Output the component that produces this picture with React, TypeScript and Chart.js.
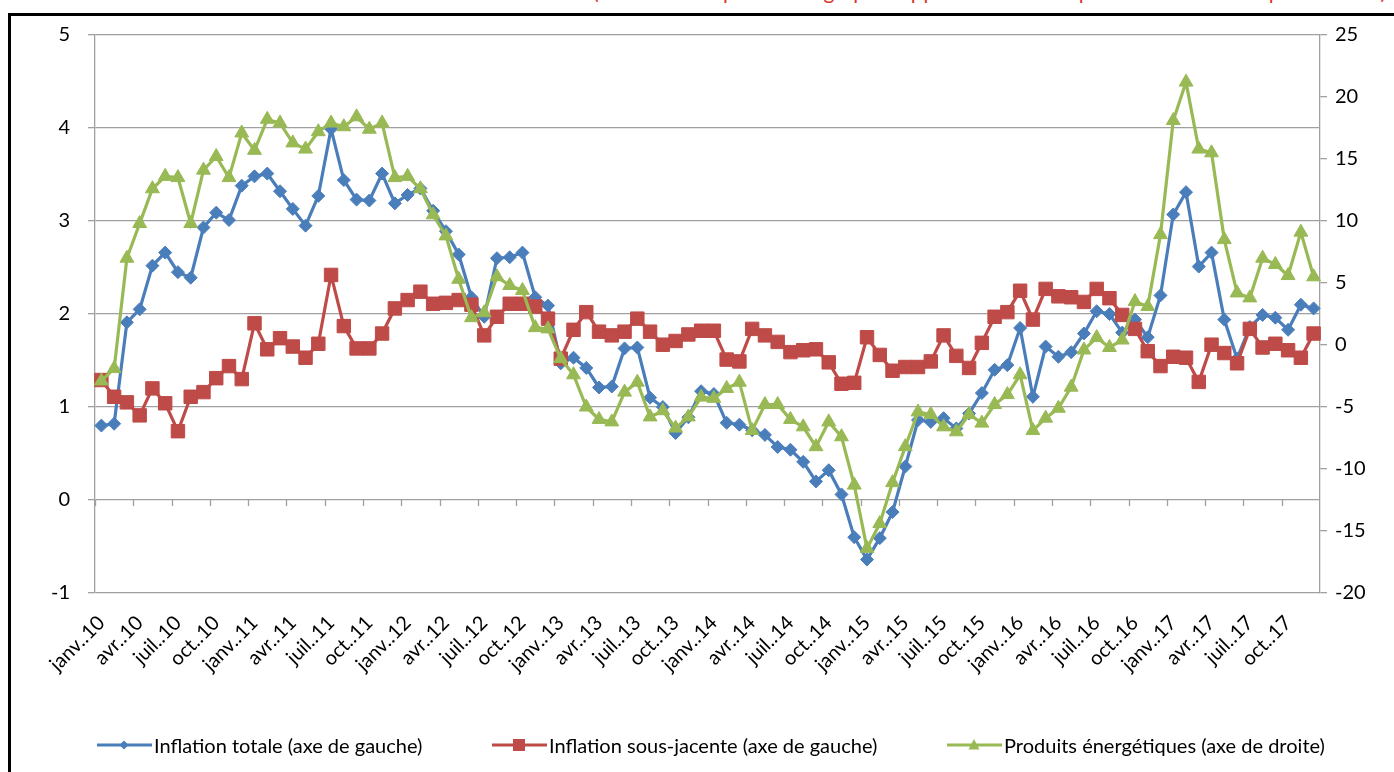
import React, { useEffect, useRef } from 'react';
import { Chart, registerables } from 'chart.js';

Chart.register(...registerables);

// ---------- data ----------
const MONTHS = ['janv.', 'févr.', 'mars', 'avr.', 'mai', 'juin', 'juil.', 'août', 'sept.', 'oct.', 'nov.', 'déc.'];
const YEARS = ['10', '11', '12', '13', '14', '15', '16', '17'];
const CATEGORIES = YEARS.flatMap((y) => MONTHS.map((m) => `${m}.${y}`));

const INFLATION_TOTALE = [
  0.80, 0.82, 1.91, 2.05, 2.52, 2.66, 2.45, 2.39, 2.93, 3.09, 3.01, 3.38,
  3.48, 3.51, 3.32, 3.13, 2.95, 3.27, 3.99, 3.44, 3.23, 3.22, 3.51, 3.19,
  3.28, 3.35, 3.11, 2.89, 2.64, 2.18, 1.97, 2.60, 2.61, 2.66, 2.18, 2.09,
  1.47, 1.53, 1.42, 1.21, 1.22, 1.63, 1.64, 1.10, 1.00, 0.72, 0.89, 1.17,
  1.14, 0.83, 0.81, 0.75, 0.70, 0.57, 0.54, 0.41, 0.20, 0.32, 0.06, -0.40,
  -0.64, -0.41, -0.13, 0.36, 0.86, 0.84, 0.88, 0.77, 0.93, 1.15, 1.40, 1.45,
  1.85, 1.11, 1.65, 1.54, 1.59, 1.79, 2.03, 2.00, 1.80, 1.94, 1.75, 2.20,
  3.07, 3.31, 2.51, 2.66, 1.94, 1.52, 1.86, 1.99, 1.96, 1.83, 2.10, 2.06,
];

const INFLATION_SOUS_JACENTE = [
  1.29, 1.11, 1.05, 0.91, 1.20, 1.04, 0.74, 1.11, 1.16, 1.31, 1.44, 1.30,
  1.90, 1.62, 1.74, 1.65, 1.53, 1.68, 2.42, 1.87, 1.63, 1.63, 1.79, 2.06,
  2.15, 2.24, 2.11, 2.12, 2.15, 2.10, 1.77, 1.97, 2.11, 2.11, 2.08, 1.95,
  1.52, 1.83, 2.02, 1.81, 1.77, 1.81, 1.95, 1.81, 1.67, 1.71, 1.78, 1.82,
  1.82, 1.51, 1.49, 1.84, 1.77, 1.70, 1.59, 1.61, 1.62, 1.48, 1.25, 1.26,
  1.75, 1.56, 1.39, 1.43, 1.43, 1.49, 1.77, 1.55, 1.42, 1.69, 1.97, 2.02,
  2.25, 1.94, 2.27, 2.19, 2.18, 2.13, 2.27, 2.17, 1.99, 1.84, 1.60, 1.44,
  1.54, 1.53, 1.27, 1.67, 1.58, 1.47, 1.84, 1.64, 1.68, 1.61, 1.53, 1.79,
];

const PRODUITS_ENERGETIQUES = [
  -2.9, -1.9, 7.0, 9.8, 12.6, 13.6, 13.5, 9.8, 14.1, 15.2, 13.5, 17.1,
  15.7, 18.2, 17.9, 16.3, 15.8, 17.2, 17.9, 17.6, 18.4, 17.4, 17.9, 13.5,
  13.6, 12.6, 10.5, 8.8, 5.3, 2.2, 2.6, 5.5, 4.8, 4.4, 1.4, 1.3,
  -1.1, -2.4, -5.0, -6.0, -6.2, -3.8, -3.0, -5.8, -5.3, -6.7, -5.8, -4.2,
  -4.3, -3.5, -3.0, -6.9, -4.8, -4.8, -6.0, -6.6, -8.2, -6.2, -7.4, -11.3,
  -16.4, -14.4, -11.1, -8.2, -5.4, -5.6, -6.6, -7.0, -5.6, -6.3, -4.8, -4.0,
  -2.4, -6.9, -5.9, -5.1, -3.4, -0.4, 0.6, -0.2, 0.4, 3.5, 3.1, 8.9,
  18.1, 21.2, 15.8, 15.5, 8.5, 4.2, 3.8, 7.0, 6.5, 5.6, 9.1, 5.5,
];

const SERIES_LABELS = [
  'Inflation totale (axe de gauche)',
  'Inflation sous-jacente (axe de gauche)',
  'Produits énergétiques (axe de droite)',
];
const TITLE = "(variation en pourcentage par rapport à la même période de l'année précédente)";

// ---------- styles ----------
const BLUE = '#4A7EBB';
const RED = '#BE4B48';
const GREEN = '#98B954';
const GRID = '#A0A0A0';
const FONT = 'Lato, "Open Sans", sans-serif';

const zeroAxisTicks = {
  id: 'zeroAxisTicks',
  beforeDatasetsDraw(chart: any) {
    const { ctx } = chart;
    const x = chart.scales.x;
    const y = chart.scales.y;
    const y0 = y.getPixelForValue(0);
    const half = (x.getPixelForValue(1) - x.getPixelForValue(0)) / 2;
    ctx.save();
    ctx.strokeStyle = GRID;
    ctx.lineWidth = 1.3;
    ctx.beginPath();
    for (let i = 0; i < CATEGORIES.length; i += 3) {
      const px = Math.round(x.getPixelForValue(i) - half) + 0.5;
      ctx.moveTo(px, y0);
      ctx.lineTo(px, y0 + 6);
    }
    ctx.stroke();
    ctx.restore();
  },
};

function LegendMarker({ color, shape }: { color: string; shape: string }) {
  let marker: any = null;
  if (shape === 'diamond') marker = <polygon points="27,3.5 31.5,8 27,12.5 22.5,8" fill={color} />;
  if (shape === 'square') marker = <rect x={21} y={2} width={12} height={12} fill={color} />;
  if (shape === 'triangle') marker = <polygon points="27,2 32.5,12.5 21.5,12.5" fill={color} />;
  return (
    <svg width={55} height={16} style={{ display: 'block' }}>
      <line x1={0} y1={8} x2={55} y2={8} stroke={color} strokeWidth={3} />
      {marker}
    </svg>
  );
}

export default function App() {
  const canvasRef = useRef<HTMLCanvasElement | null>(null);

  useEffect(() => {
    const canvas = canvasRef.current;
    if (!canvas) return;
    const chart = new Chart(canvas, {
      type: 'line',
      data: {
        labels: CATEGORIES,
        datasets: [
          {
            label: SERIES_LABELS[0],
            data: INFLATION_TOTALE,
            yAxisID: 'y',
            borderColor: BLUE,
            backgroundColor: BLUE,
            pointBackgroundColor: BLUE,
            pointBorderColor: BLUE,
            pointStyle: 'rectRot',
            pointRadius: 6.5,
            pointBorderWidth: 1,
            borderWidth: 3.2,
            tension: 0,
            order: 2,
          },
          {
            label: SERIES_LABELS[1],
            data: INFLATION_SOUS_JACENTE,
            yAxisID: 'y',
            borderColor: RED,
            backgroundColor: RED,
            pointBackgroundColor: RED,
            pointBorderColor: RED,
            pointStyle: 'rect',
            pointRadius: 9.5,
            pointBorderWidth: 1,
            borderWidth: 3.2,
            tension: 0,
            order: 1,
          },
          {
            label: SERIES_LABELS[2],
            data: PRODUITS_ENERGETIQUES,
            yAxisID: 'y1',
            borderColor: GREEN,
            backgroundColor: GREEN,
            pointBackgroundColor: GREEN,
            pointBorderColor: GREEN,
            pointStyle: 'triangle',
            pointRadius: 8,
            pointBorderWidth: 1,
            borderWidth: 3.2,
            tension: 0,
            order: 0,
          },
        ],
      },
      options: {
        responsive: false,
        animation: false,
        devicePixelRatio: 1,
        layout: { padding: { top: 35, left: 0, right: 0, bottom: 0 } },
        plugins: {
          legend: { display: false },
          tooltip: { enabled: false },
          title: { display: false },
        },
        scales: {
          x: {
            type: 'category',
            offset: true,
            grid: { display: false, drawTicks: false },
            border: { display: false },
            ticks: {
              autoSkip: false,
              maxRotation: 45,
              minRotation: 45,
              padding: 18,
              color: '#000',
              font: { family: FONT, size: 20 },
              callback: (_v: any, i: number) => (i % 3 === 0 ? CATEGORIES[i] : ''),
            },
            afterFit: (s: any) => {
              s.height = 179;
            },
          },
          y: {
            position: 'left',
            min: -1,
            max: 5,
            ticks: { stepSize: 1, padding: 18, color: '#000', font: { family: FONT, size: 20 } },
            grid: { color: GRID, lineWidth: 1.3, drawTicks: true, tickLength: 7, tickColor: GRID, tickWidth: 1.3 },
            border: { display: true, color: GRID, width: 1.3 },
            afterFit: (s: any) => {
              s.width = 95;
            },
          },
          y1: {
            position: 'right',
            min: -20,
            max: 25,
            ticks: { stepSize: 5, padding: 8, color: '#000', font: { family: FONT, size: 20 } },
            grid: { drawOnChartArea: false, color: GRID, lineWidth: 1.3, drawTicks: true, tickLength: 7, tickColor: GRID, tickWidth: 1.3 },
            border: { display: true, color: GRID, width: 1.3 },
            afterFit: (s: any) => {
              s.width = 74;
            },
          },
        },
      },
      plugins: [zeroAxisTicks],
    } as any);
    return () => chart.destroy();
  }, []);

  const legendItems = [
    { left: 97, color: BLUE, shape: 'diamond', text: SERIES_LABELS[0] },
    { left: 492, color: RED, shape: 'square', text: SERIES_LABELS[1] },
    { left: 947, color: GREEN, shape: 'triangle', text: SERIES_LABELS[2] },
  ];

  return (
    <div style={{ position: 'fixed', left: 0, top: 0, width: 1394, height: 772, background: '#fff', overflow: 'hidden' }}>
      <svg width={1394} height={20} style={{ position: 'absolute', left: 0, top: 0 }}>
        <text x={593} y={-1} textLength={793} lengthAdjust="spacing" fill="#D8362B" fontFamily={FONT} fontSize={21}>
          {TITLE}
        </text>
      </svg>
      <div
        style={{
          position: 'absolute',
          left: 8,
          top: 13,
          width: 2000,
          height: 2000,
          borderTop: '3px solid #000',
          borderLeft: '3px solid #000',
          boxSizing: 'border-box',
        }}
      />
      <canvas ref={canvasRef} width={1394} height={772} style={{ position: 'absolute', left: 0, top: 0 }} />
      {legendItems.map((it) => (
        <div
          key={it.text}
          style={{
            position: 'absolute',
            left: it.left,
            top: 733,
            height: 24,
            display: 'flex',
            alignItems: 'center',
            fontFamily: FONT,
            fontSize: 20,
            color: '#000',
            whiteSpace: 'nowrap',
          }}
        >
          <LegendMarker color={it.color} shape={it.shape} />
          <span style={{ marginLeft: 2 }}>{it.text}</span>
        </div>
      ))}
    </div>
  );
}
